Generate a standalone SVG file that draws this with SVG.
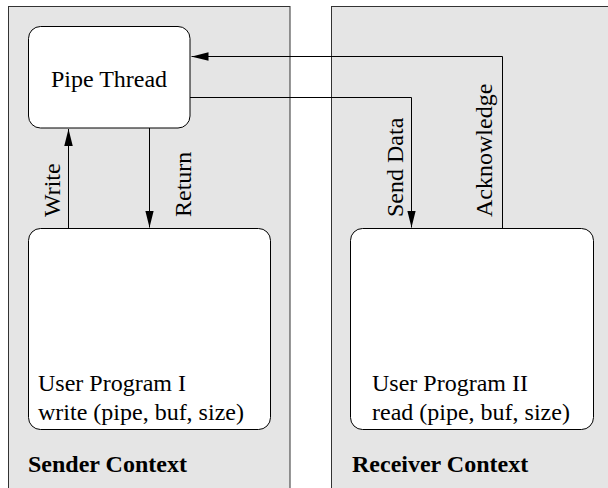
<svg xmlns="http://www.w3.org/2000/svg" width="608" height="488" viewBox="0 0 608 488">
<style>
.panel{fill:#e5e5e5;stroke:#333;stroke-width:1}
.box{fill:#fff;stroke:#000;stroke-width:1}
.t{font-family:'Liberation Serif','Times New Roman',Times,'DejaVu Serif',serif;font-size:24px;fill:#000}
.b{font-weight:bold}
.c{fill:none;stroke:#000;stroke-width:1}
</style>
<defs>
<marker id="ah" viewBox="0 0 17 8.5" refX="17" refY="4.25" markerWidth="17" markerHeight="8.5" markerUnits="userSpaceOnUse" orient="auto">
<path d="M0,0 L17,4.25 L0,8.5 Z" fill="#000"/>
</marker>
</defs>
<g id="sender-context">
<rect class="panel" x="8.5" y="6.5" width="281.5" height="490"/>
<text class="t b" x="28" y="472">Sender Context</text>
</g>
<g id="receiver-context">
<rect class="panel" x="331.5" y="6.5" width="290" height="490"/>
<text class="t b" x="352" y="472">Receiver Context</text>
</g>
<g id="pipe-thread">
<rect class="box" x="28.5" y="26.5" width="161.5" height="101.5" rx="12"/>
<text class="t" x="109" y="87" text-anchor="middle">Pipe Thread</text>
</g>
<g id="user-program-1">
<rect class="box" x="28.5" y="228.5" width="242" height="201" rx="12"/>
<text class="t" x="38" y="391">User Program I</text>
<text class="t" x="38" y="420">write (pipe, buf, size)</text>
</g>
<g id="user-program-2">
<rect class="box" x="350.5" y="228.5" width="243" height="201" rx="12"/>
<text class="t" x="372" y="391">User Program II</text>
<text class="t" x="372" y="420">read (pipe, buf, size)</text>
</g>
<g id="connectors">
<path class="c" d="M68.5,228 V129" marker-end="url(#ah)"/>
<path class="c" d="M149.5,128 V227.5" marker-end="url(#ah)"/>
<path class="c" d="M190,97.5 H411.5 V227.5" marker-end="url(#ah)"/>
<path class="c" d="M502.5,228 V56.5 H191.5" marker-end="url(#ah)"/>
<text class="t" transform="translate(60,217) rotate(-90)">Write</text>
<text class="t" transform="translate(191,217) rotate(-90)">Return</text>
<text class="t" transform="translate(403,217) rotate(-90)">Send Data</text>
<text class="t" transform="translate(492,217) rotate(-90)">Acknowledge</text>
</g>
</svg>
